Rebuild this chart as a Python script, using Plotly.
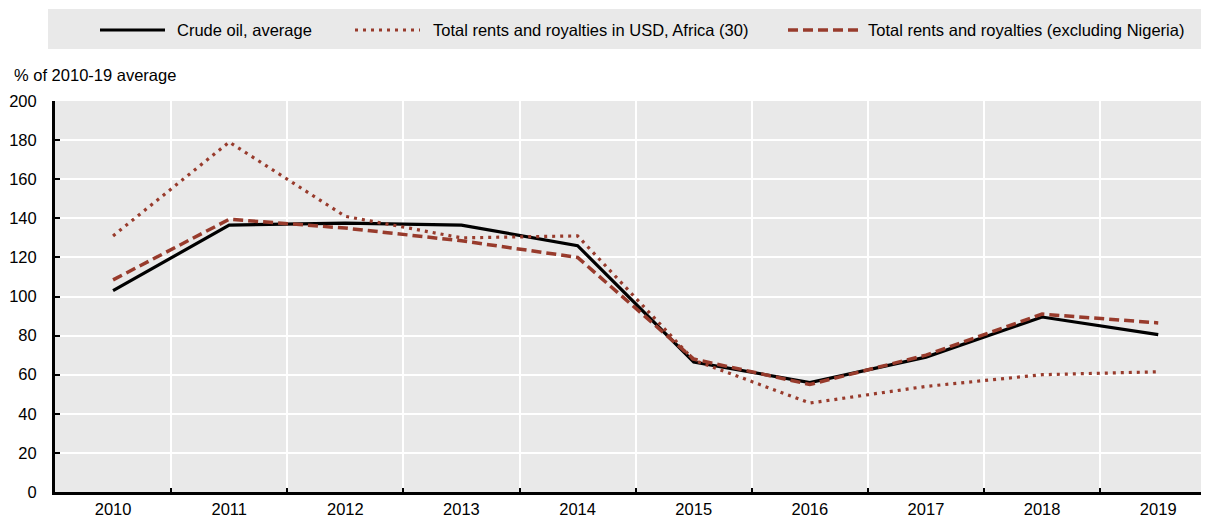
import plotly.graph_objects as go

years = [2010, 2011, 2012, 2013, 2014, 2015, 2016, 2017, 2018, 2019]
crude_oil = [103, 136.5, 137.5, 136.5, 126, 66.5, 56, 69, 89.5, 80.5]
rents_total = [131, 179, 141, 130, 131, 67.5, 45.5, 54, 60, 61.5]
rents_ex_nigeria = [108.5, 139.5, 135, 128.5, 120, 68, 55, 70, 91, 86.5]

series_names = [
    "Crude oil, average",
    "Total rents and royalties in USD, Africa (30)",
    "Total rents and royalties (excluding Nigeria)",
]
y_ticks = [0, 20, 40, 60, 80, 100, 120, 140, 160, 180, 200]
y_title = "% of 2010-19 average"

RED = "#983B2C"
FONT = "Liberation Sans, Arial, sans-serif"
FS = 16.5

styles = [
    dict(color="black", width=3.2, dash="solid"),
    dict(color=RED, width=3.2, dash="3px,5px"),
    dict(color=RED, width=3.5, dash="10px,5px"),
]

fig = go.Figure()
for name, vals, st in zip(series_names, [crude_oil, rents_total, rents_ex_nigeria], styles):
    fig.add_trace(go.Scatter(x=years, y=vals, mode="lines", name=name, line=st, showlegend=False))

# page body has an 8px margin; work in screenshot pixels and offset
OFF = 8
SW, SH = 1209, 517
W, H = SW - OFF, SH - OFF
# plot area in screenshot pixels
P_L, P_R, P_T, P_B = 55, 1207, 101, 492
ml, mr, mt, mb = P_L - OFF, SW - P_R, P_T - OFF, SH - P_B

fig.update_layout(
    width=W, height=H,
    margin=dict(l=ml, r=mr, t=mt, b=mb, autoexpand=False),
    paper_bgcolor="white",
    plot_bgcolor="#e9e9e9",
    font=dict(family=FONT, size=FS, color="black"),
    xaxis=dict(
        range=[2009.5, 2019.42],
        tickmode="array", tickvals=years, ticktext=[str(y) for y in years],
        showgrid=False, ticks="", zeroline=False,
        showline=True, linecolor="black", linewidth=2.5,
        minor=dict(tickmode="array", tickvals=[y + 0.5 for y in years[:-1]],
                   showgrid=True, gridcolor="white", gridwidth=2,
                   ticks="inside", ticklen=4, tickcolor="black", tickwidth=2),
        tickfont=dict(size=FS),
    ),
    yaxis=dict(
        range=[0, 200],
        tickmode="array", tickvals=y_ticks,
        showgrid=True, gridcolor="white", gridwidth=2,
        ticks="inside", ticklen=5, tickcolor="black", tickwidth=2,
        zeroline=False,
        showline=True, linecolor="black", linewidth=3,
        tickfont=dict(size=FS),
        ticklabelstandoff=12,
    ),
)

pw = P_R - P_L
ph = P_B - P_T
def px_x(x):
    return (x - P_L) / pw
def px_y(y):
    return (P_B - y) / ph

# y axis caption
fig.add_annotation(text=y_title, xref="paper", yref="paper",
                   x=px_x(12), y=px_y(75), xanchor="left", yanchor="middle",
                   showarrow=False, font=dict(size=FS))

# manual legend band
fig.add_shape(type="rect", xref="paper", yref="paper",
              x0=px_x(48), x1=px_x(1209), y0=px_y(49), y1=px_y(9),
              fillcolor="#e9e9e9", line=dict(width=0), layer="below")

legend_items = [
    (100, 165, 175),
    (355, 420, 431),
    (788, 860, 866),
]
for (x0, x1, tx), name, st in zip(legend_items, series_names, styles):
    fig.add_shape(type="line", xref="paper", yref="paper",
                  x0=px_x(x0), x1=px_x(x1), y0=px_y(30), y1=px_y(30),
                  line=dict(color=st["color"], width=st["width"], dash=st["dash"]))
    fig.add_annotation(text=name, xref="paper", yref="paper",
                       x=px_x(tx), y=px_y(30), xanchor="left", yanchor="middle",
                       showarrow=False, font=dict(size=FS))

fig.write_html("out.html")
